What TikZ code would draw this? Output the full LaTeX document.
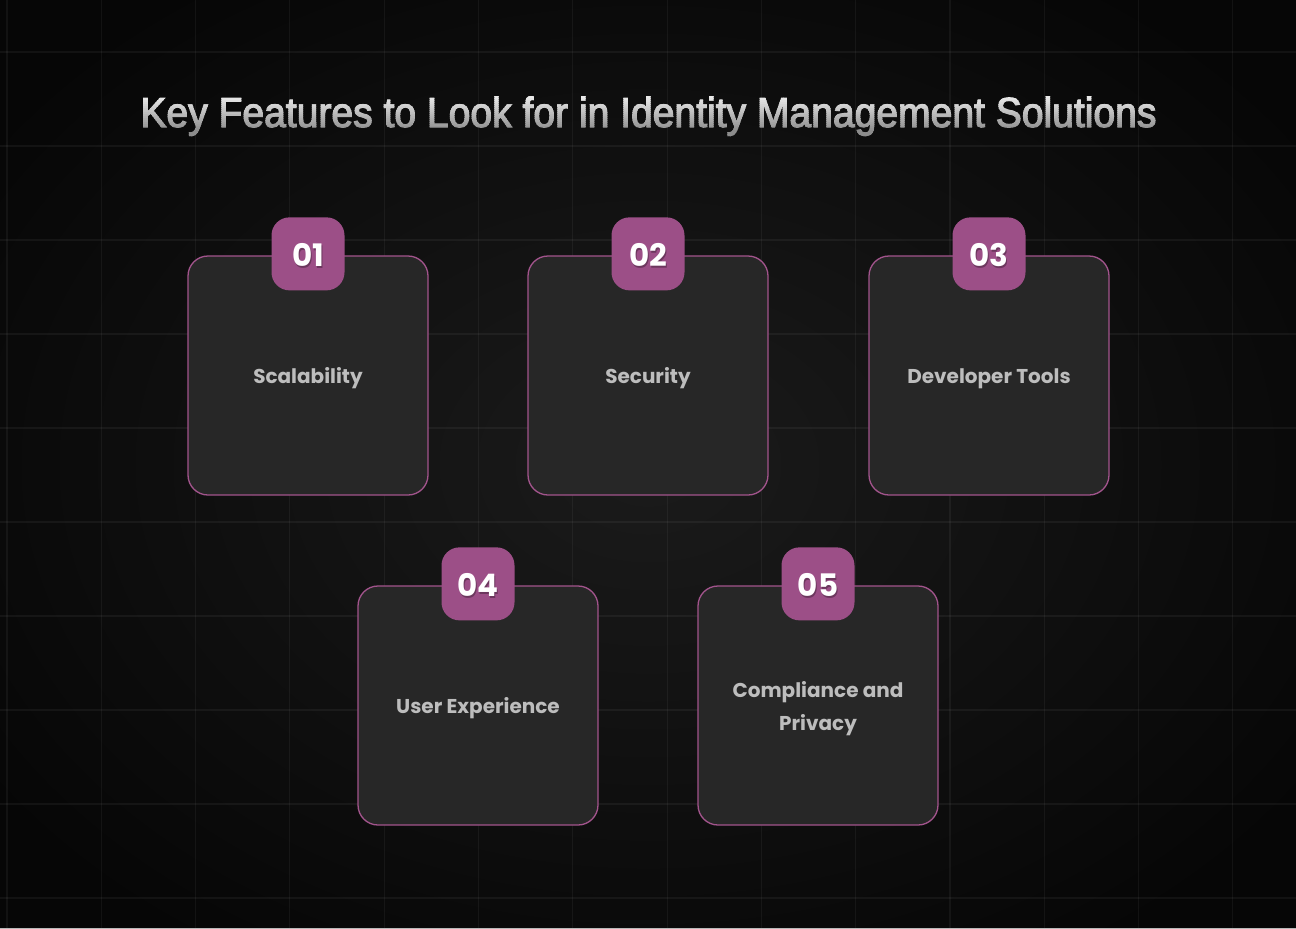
\documentclass[tikz,border=0pt]{standalone}
\usepackage{fontspec}
\setmainfont{Poppins}
\newfontfamily\titlefont[FakeBold=2.6]{Liberation Sans}
\newfontfamily\cardfont{Poppins Bold}
\newfontfamily\badgefont{Poppins Bold}
\usetikzlibrary{calc}

\definecolor{bgcenter}{HTML}{1B1B1B}
\definecolor{bgedge}{HTML}{060606}
\definecolor{cardfill}{HTML}{272727}
\definecolor{cardline}{HTML}{A2548C}
\definecolor{badgefill}{HTML}{9C4F87}
\definecolor{cardtext}{HTML}{BDBDBD}
\definecolor{titletop}{HTML}{F0F0F0}
\definecolor{titlebottom}{HTML}{8C8C8C}

\tikzset{
  card/.style={draw=cardline, line width=1.3pt, fill=cardfill,
    rounded corners=20pt, minimum width=240pt, minimum height=239pt,
    inner sep=0pt},
  cardlabel/.style={align=center, text=cardtext,
    font=\cardfont\fontsize{20}{33}\selectfont},
  badge/.style={fill=badgefill, rounded corners=18pt,
    minimum width=73pt, minimum height=73pt, inner sep=0pt},
  badgenum/.style={text=white, font=\badgefont\fontsize{31}{32}\selectfont},
  badgeshadow/.style={text=black, opacity=0.3, font=\badgefont\fontsize{31}{32}\selectfont},
  gridline/.style={draw=white, opacity=0.05, line width=1.1pt},
  titlestyle/.style={font=\titlefont\fontsize{42}{44}\selectfont, anchor=base}
}

\newcommand{\headingtext}{\scalebox{0.93}[1]{Key Features to Look for in Identity Management Solutions}}

\begin{document}
\begin{tikzpicture}[x=1pt,y=-1pt]
  % backdrop with a soft radial glow
  \useasboundingbox (0,0) rectangle (1296,929);
  \shade[inner color=bgcenter, outer color=bgedge] (-150,-120) rectangle (1446,1049);
  % faint grid
  \foreach \i in {0,...,13} {
    \draw[gridline] ({7+94.3*\i},0) -- ({7+94.3*\i},929);
  }
  \foreach \j in {0,...,9} {
    \draw[gridline] (0,{52+94*\j}) -- (1296,{52+94*\j});
  }
  \fill[gray!55] (0,928) rectangle (1296,929);

  % heading: vertical light-to-grey gradient built from clipped bands
  \foreach \k in {0,...,23} {
    \pgfmathsetmacro{\ytop}{90+2*\k}
    \pgfmathsetmacro{\ybot}{\ytop+2.05}
    \pgfmathsetmacro{\mixpct}{max(0,min(100,100-(\ytop-94)*100/36))}
    \begin{scope}
      \clip (100,\ytop) rectangle (1200,\ybot);
      \node[titlestyle, text=titletop!\mixpct!titlebottom] (title\k) at (648.5,127) {\headingtext};
    \end{scope}
  }

  % feature cards
  \node[card] (c1) at (308,375.5) {};
  \node[card] (c2) at (648,375.5) {};
  \node[card] (c3) at (989,375.5) {};
  \node[card] (c4) at (478,705.5) {};
  \node[card] (c5) at (818,705.5) {};
  \node[cardlabel] (l1) at ($(c1.center)+(0,3)$) {Scalability};
  \node[cardlabel] (l2) at ($(c2.center)+(0,3)$) {Security};
  \node[cardlabel] (l3) at ($(c3.center)+(0,3)$) {Developer Tools};
  \node[cardlabel] (l4) at ($(c4.center)+(0,3)$) {User Experience};
  \node[cardlabel] (l5) at ($(c5.center)+(0,3)$) {Compliance and\\Privacy};

  % numbered badges sitting on the top edge of each card
  \foreach \c/\n in {c1/01, c2/02, c3/03, c4/04, c5/05} {
    \node[badge] (b\n) at ($(\c.north)+(0,-1.5)$) {};
    \node[badgeshadow] at ($(b\n.center)+(1,3)$) {\n};
    \node[badgenum] (t\n) at ($(b\n.center)+(0,1)$) {\n};
  }
\end{tikzpicture}
\end{document}
